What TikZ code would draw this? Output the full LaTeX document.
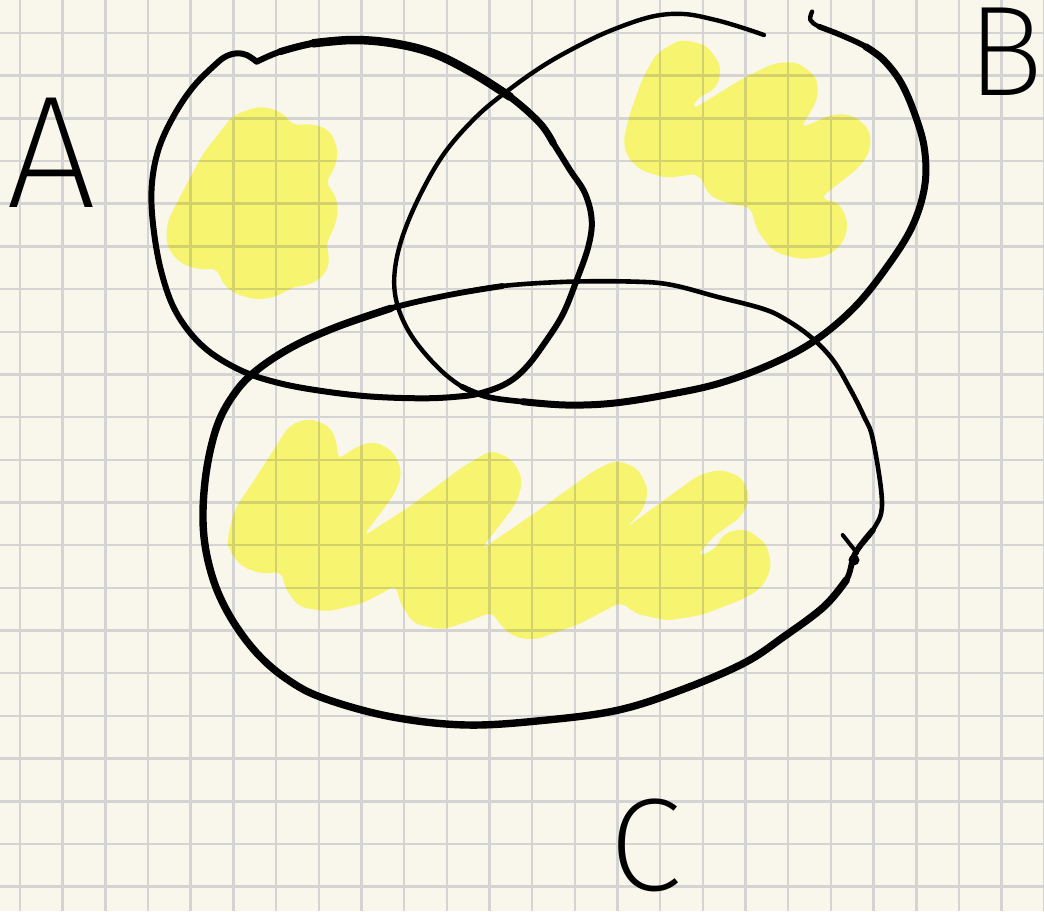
\documentclass[tikz,border=0pt]{standalone}
\usepackage{fontspec}
\newfontfamily\handfont{Fira Sans ExtraLight}
\definecolor{paper}{RGB}{249,247,235}
\definecolor{gridgray}{RGB}{212,212,212}
\definecolor{marker}{RGB}{247,245,112}
\definecolor{gridmarker}{RGB}{211,209,108}
\newcommand\papergrid[1]{%
  \foreach \i in {0,...,24} \draw[#1, line width=2.5pt, line cap=butt] ({20+42.68*\i},0) -- ({20+42.68*\i},911);
  \foreach \j in {0,...,20} \draw[#1, line width=2.5pt, line cap=butt] (0,{33+42.68*\j}) -- (1044,{33+42.68*\j});}
\newcommand\blobA{(233.3,115) -- (260,106) -- (281.7,111.7) -- (293.3,126) -- (310,123.3) -- (330,130) -- (338.3,150) -- (335,168.3) -- (325,183.3) -- (335,193.3) -- (338.3,210) -- (335,226.7) -- (326,243.3) -- (330,260) -- (325,275) -- (310,285) -- (293.3,286.7) -- (276.7,296.7) -- (256.7,300) -- (233.3,293.3) -- (220,280) -- (218.3,268.3) -- (200,270) -- (180,263.3) -- (166.7,246.7) -- (166.7,223.3) -- (180,196.7) -- (203.3,153.3) -- cycle}
\newcommand\blobB{(623.3,140) -- (630,113.3) -- (643.3,76.7) -- (656.7,53.3) -- (680,39.3) -- (706.7,45) -- (721.7,66.7) -- (716.7,88.3) -- (696.7,98.3) -- (691.7,110) -- (740,80) -- (773.3,63.3) -- (796.7,61.7) -- (816.7,76.7) -- (818.3,96.7) -- (810,113.3) -- (800,128.3) -- (833.3,114) -- (853.3,115) -- (870,130) -- (870.7,150) -- (860,166.7) -- (820,198.3) -- (840,203.3) -- (848.3,223.3) -- (843.3,243.3) -- (826.7,256.7) -- (800,259.3) -- (773.3,251.7) -- (756.7,230) -- (750.7,206.7) -- (733.3,205) -- (710,196.7) -- (698.3,173.3) -- (666.7,178.3) -- (640,170) -- (626.7,156.7) -- cycle}
\newcommand\blobC{(227.1,540) -- (234.3,510) -- (252.1,483.3) -- (278.9,441.7) -- (289.6,425) -- (309.3,418.3) -- (330.7,426.7) -- (337.9,446.7) -- (337.1,460) -- (359.3,445) -- (377.1,441.7) -- (395,453.3) -- (402.1,473.3) -- (395,493.3) -- (362.9,536.7) -- (409.3,506.7) -- (462.9,466.7) -- (491.4,450) -- (512.9,460) -- (522.9,480) -- (516.4,503.3) -- (480.7,550) -- (534.3,513.3) -- (595,470) -- (616.4,460) -- (637.9,468.3) -- (648.6,490) -- (643.2,510) -- (625.4,528.3) -- (698.6,475) -- (720,469.3) -- (741.4,476.7) -- (750.4,496.7) -- (741.4,516.7) -- (712.9,536.7) -- (696.8,556.7) -- (714.6,550) -- (723.6,533.3) -- (745,528.3) -- (766.4,543.3) -- (771.8,566.7) -- (762.9,586.7) -- (745,598.3) -- (702.1,615) -- (666.4,620.7) -- (634.3,613.3) -- (621.8,601.7) -- (577.1,625) -- (534.3,640) -- (512.9,636.7) -- (498.6,623.3) -- (493.2,611.7) -- (462.9,623.3) -- (441.4,630) -- (412.9,623.3) -- (398.6,600) -- (396.8,585) -- (362.9,603.3) -- (327.1,611.7) -- (298.6,606.7) -- (284.3,586.7) -- (282.5,571.7) -- (262.9,574) -- (241.4,566.7) -- (228.9,550) -- cycle}
\begin{document}
\begin{tikzpicture}[x=1pt, y=-1pt, line join=round, line cap=round,
	ink/.style={draw=black, line width=#1},
	ink/.default=4.5pt,
	hl/.style={fill=marker, rounded corners=8pt},
	lab/.style={inner sep=0pt, anchor=base, text=black}]
	\useasboundingbox (0,0) rectangle (1044,911);
	\fill[paper] (0,0) rectangle (1044,911);
	\papergrid{gridgray}
	% marker
	\fill[hl] \blobA;
	\fill[hl] \blobB;
	\fill[hl] \blobC;
	\begin{scope}
		\clip[rounded corners=8pt] \blobA \blobB \blobC;
		\papergrid{gridmarker}
	\end{scope}
	% set A
	\draw[ink=6pt, smooth, tension=0.6] plot coordinates {(256.7,61.7) (246.7,55) (236.7,53.3) (226.7,56) (216.7,63.3) (193.3,86.7) (173.3,116.7) (158.3,150) (151.7,186.7) (153.3,226.7) (161.7,273.3) (176.7,313.3) (203.3,346.7) (240,370) (280,383.3) (326.7,391.7) (373.3,396.7) (423.3,398.3) (456.7,396.7) (480,393.3) (506.7,383.3) (526.7,366.7) (546.7,340) (563.3,313.3) (576.7,280) (588.3,246.7) (591.7,220) (585,193.3) (570,170) (553.3,143.3) (540,123.3) (510,96.7) (473.3,73.3) (433.3,53.3) (393.3,43.3) (353.3,40) (313.3,43.3) (280,51.7) (256.7,61.7)};
	\draw[ink=7pt, smooth, tension=0.6] plot coordinates {(280,51.7) (313.3,43.3) (353.3,40) (393.3,43.3) (433.3,53.3) (473.3,73.3) (510,96.7) (540,123.3) (553.3,143.3)};
	\draw[ink=8.5pt, smooth, tension=0.6] plot coordinates {(313.3,43.3) (353.3,40) (393.3,43.3) (433.3,53.3) (473.3,73.3) (510,96.7)};
	% set B
	\draw[ink=4.4pt, smooth, tension=0.6] plot coordinates {(763.9,35) (744.3,28.3) (715.7,20) (683.6,14) (651.4,16.7) (612.1,30) (580,45) (544.3,65) (508.6,90) (476.4,116.7) (444.3,153.3) (419.3,196.7) (401.4,240) (394.3,276.7) (397.9,306.7) (412.1,336.7) (437.1,366.7) (462.1,386.7) (487.1,396.7) (522.9,401.7) (565.7,405) (612.1,403.3) (665.7,395) (719.3,383.3) (772.9,363.3) (815.7,340) (855,306.7) (887.1,266.7) (912.1,226.7) (924.6,186.7) (924.6,150) (915.7,116.7) (901.4,83.3) (883.6,60) (865.7,46.7) (840.7,35) (819.3,26.7) (810.4,20) (812.1,11.7)};
	\draw[ink=5.6pt, smooth, tension=0.6] plot coordinates {(462.1,386.7) (487.1,396.7) (522.9,401.7) (565.7,405) (612.1,403.3) (665.7,395) (719.3,383.3) (772.9,363.3) (815.7,340) (855,306.7) (887.1,266.7) (912.1,226.7) (924.6,186.7) (924.6,150) (915.7,116.7) (901.4,83.3) (883.6,60) (865.7,46.7) (840.7,35) (819.3,26.7)};
	\draw[ink=7pt, smooth, tension=0.6] plot coordinates {(522.9,401.7) (565.7,405) (612.1,403.3) (665.7,395) (719.3,383.3) (772.9,363.3) (815.7,340) (855,306.7) (887.1,266.7) (912.1,226.7) (924.6,186.7) (924.6,150) (915.7,116.7) (901.4,83.3) (883.6,60) (865.7,46.7)};
	% set C
	\draw[ink=4.6pt, smooth cycle, tension=0.6] plot coordinates {(873,440) (882,503.3) (873,530) (855.2,553.3) (846.3,580) (823.9,606.7) (783.8,636.7) (743.6,663.3) (681.1,690) (618.6,710) (547.1,720) (466.8,725) (390.9,716.7) (323.9,698.3) (288.2,680) (257,653.3) (230.2,616.7) (212.3,576.7) (203.4,530) (205.6,476.7) (216.8,426.7) (234.6,393.3) (257,370) (292.7,346.7) (337.3,326.7) (390.9,308.3) (448.9,295) (502.5,286) (569.5,281.7) (636.4,281.7) (672.1,285) (716.8,296.7) (761.4,308.3) (783.8,318.3) (810.5,336.7) (832.9,360) (850.7,390) (864.1,416.7)};
	\draw[ink=5.8pt, smooth, tension=0.6] plot coordinates {(873,530) (855.2,553.3) (846.3,580) (823.9,606.7) (783.8,636.7) (743.6,663.3) (681.1,690) (618.6,710) (547.1,720) (466.8,725) (390.9,716.7) (323.9,698.3) (288.2,680) (257,653.3) (230.2,616.7) (212.3,576.7) (203.4,530) (205.6,476.7) (216.8,426.7) (234.6,393.3) (257,370) (292.7,346.7) (337.3,326.7) (390.9,308.3) (448.9,295) (502.5,286)};
	\draw[ink=7.4pt, smooth, tension=0.6] plot coordinates {(846.3,580) (823.9,606.7) (783.8,636.7) (743.6,663.3) (681.1,690) (618.6,710) (547.1,720) (466.8,725) (390.9,716.7) (323.9,698.3) (288.2,680) (257,653.3) (230.2,616.7) (212.3,576.7) (203.4,530) (205.6,476.7) (216.8,426.7) (234.6,393.3) (257,370) (292.7,346.7) (337.3,326.7) (390.9,308.3)};
	\draw[ink=4pt] (842.7,535) -- (857,553);
	\fill (854,560) circle (5.5);
	% labels
	\node[lab, font=\handfont\fontsize{160}{160}\selectfont] (labA) at (51,207) {A};
	\node[lab, font=\handfont\fontsize{128}{128}\selectfont] (labB) at (1006,95) {B};
	\node[lab, font=\handfont\fontsize{132}{132}\selectfont] (labC) at (646,890) {C};
\end{tikzpicture}
\end{document}
